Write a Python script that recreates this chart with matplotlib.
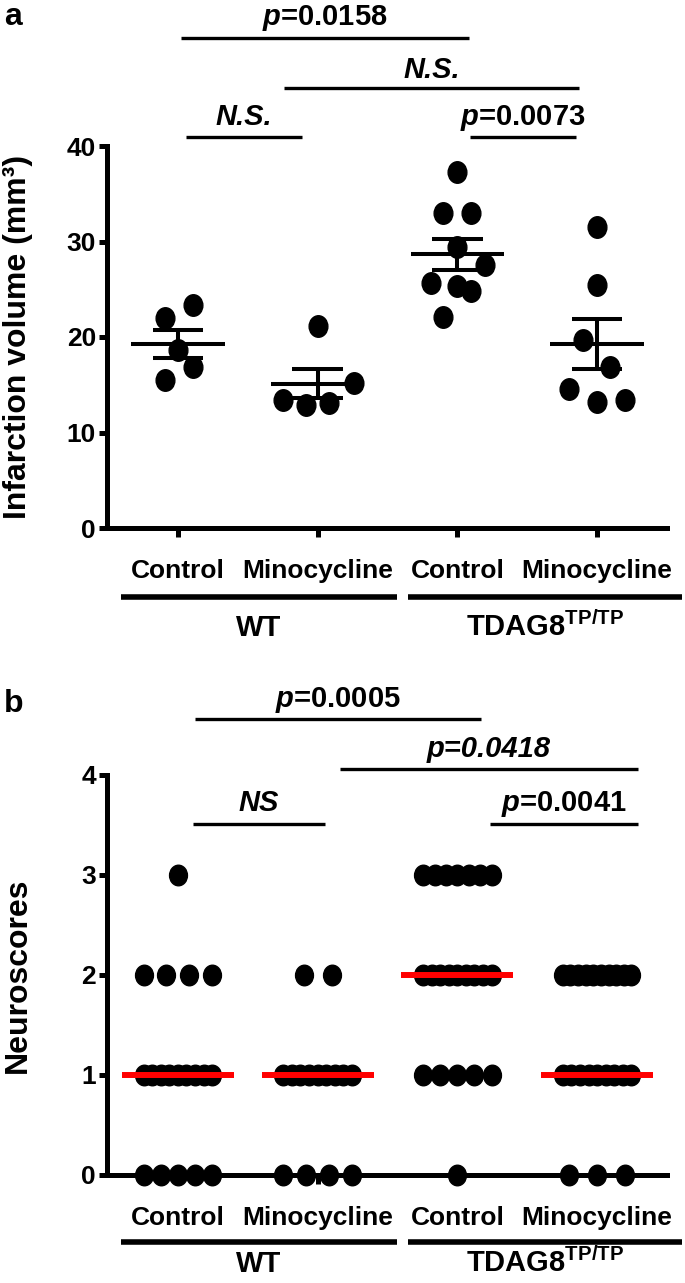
import numpy as np
import matplotlib.pyplot as plt
from matplotlib import font_manager
from matplotlib.path import Path
from matplotlib.transforms import Affine2D

# ---- panel a: infarction volume (mm3), one value per animal ----
groups = ["Control", "Minocycline", "Control", "Minocycline"]
genotypes = ["WT", "TDAG8$^{TP/TP}$"]
vol_wt_ctrl = [23.3, 22.0, 18.6, 16.9, 15.5]
vol_wt_mino = [21.1, 15.15, 13.4, 12.9, 13.05]
vol_tdag_ctrl = [37.3, 32.95, 32.95, 29.45, 27.5, 25.7, 25.3, 24.85, 22.1]
vol_tdag_mino = [31.55, 25.4, 19.7, 16.9, 14.6, 13.2, 13.45]

# ---- panel b: neuroscores, one value per animal ----
score_wt_ctrl = [0, 0, 0, 0, 0, 1, 1, 1, 1, 1, 1, 1, 1, 1, 2, 2, 2, 2, 3]
score_wt_mino = [0, 0, 0, 0, 1, 1, 1, 1, 1, 1, 1, 1, 1, 2, 2]
score_tdag_ctrl = [0, 1, 1, 1, 1, 1, 2, 2, 2, 2, 2, 2, 2, 2, 2, 3, 3, 3, 3, 3, 3, 3]
score_tdag_mino = [0, 0, 0, 1, 1, 1, 1, 1, 1, 1, 1, 1, 2, 2, 2, 2, 2, 2, 2, 2, 2, 2]

# significance labels
a_labels = ["$\\mathit{p}$=0.0158", "N.S.", "N.S.", "$\\mathit{p}$=0.0073"]
b_labels = ["$\\mathit{p}$=0.0005", "p=0.0418", "NS", "$\\mathit{p}$=0.0041"]

# ---- layout (not data): horizontal spread of the dots in panel a ----
a_spread = [
    [0.105, -0.09, 0.0, 0.105, -0.09],
    [0.0, 0.26, -0.25, -0.08, 0.085],
    [0.0, -0.1, 0.1, 0.0, 0.2, -0.19, 0.0, 0.1, -0.1],
    [0.0, 0.0, -0.1, 0.09, -0.2, 0.0, 0.2],
]

have = {f.name for f in font_manager.fontManager.ttflist}
BASE = "Liberation Sans" if "Liberation Sans" in have else "DejaVu Sans"
NARROW = "Liberation Sans Narrow" if "Liberation Sans Narrow" in have else BASE
AX_FS = 22.5 if NARROW != BASE else 19

plt.rcParams.update({
    "font.family": [BASE, "DejaVu Sans"],
    "font.weight": "bold",
    "mathtext.fontset": "custom",
    "mathtext.it": BASE + ":italic:bold",
    "mathtext.rm": BASE + ":bold",
    "mathtext.bf": BASE + ":bold",
    "mathtext.default": "regular",
})

W, H = 685, 1283
fig = plt.figure(figsize=(W / 100, H / 100), dpi=100)


def axes_px(left, right, top, bottom):
    return fig.add_axes([left / W, 1 - bottom / H, (right - left) / W, (bottom - top) / H])


ax_a = axes_px(107, 667, 146, 528)
ax_b = axes_px(107, 667, 775, 1175)

pos = np.arange(1, 5)
dot = Path.unit_circle().transformed(Affine2D().scale(0.87, 1.0))
LW = 3.6


def below(ax, px):
    return -px / (ax.get_position().height * H)


def style(ax, ymax, yticks):
    for s in ["top", "right"]:
        ax.spines[s].set_visible(False)
    for s in ["left", "bottom"]:
        ax.spines[s].set_linewidth(LW)
    ax.set_xlim(0.493, 4.5)
    ax.set_ylim(0, ymax)
    ax.set_yticks(yticks)
    ax.set_xticks(pos)
    ax.tick_params(axis="y", length=6, width=LW, pad=2, labelsize=AX_FS)
    ax.tick_params(axis="x", length=6.5, width=LW, labelbottom=False)
    for t in ax.get_yticklabels():
        t.set_fontfamily(NARROW)
        t.set_fontweight("bold")


def x_labels(ax, lab_px, line_px, geno_px):
    tr = ax.get_xaxis_transform()
    for x, g in zip(pos, groups):
        ax.text(x, below(ax, lab_px), g, transform=tr, ha="center", va="baseline",
                fontsize=AX_FS, family=NARROW, fontweight="bold", clip_on=False)
    spans = [(pos[0] - 0.41, pos[1] + 0.57), (pos[2] - 0.35, pos[3] + 0.61)]
    for (l, r), g in zip(spans, genotypes):
        ax.plot([l, r], [below(ax, line_px)] * 2, transform=tr, color="black",
                lw=4, solid_capstyle="butt", clip_on=False)
        ax.text((l + r) / 2, below(ax, geno_px), g, transform=tr, ha="center",
                va="baseline", fontsize=21, fontweight="bold", clip_on=False)


def brackets(ax, specs, labels):
    for (i, j, dl, dr, y, ty), lab in zip(specs, labels):
        l, r = pos[i] + dl, pos[j] + dr
        ax.plot([l, r], [y, y], color="black", lw=2.4, solid_capstyle="butt", clip_on=False)
        ital = "italic" if "$" not in lab else "normal"
        ax.text((l + r) / 2, ty, lab, ha="center", va="baseline", fontsize=21,
                fontweight="bold", style=ital, clip_on=False)


# ---------------- panel a ----------------
style(ax_a, 40, [0, 10, 20, 30, 40])
for x, v, s in zip(pos, [vol_wt_ctrl, vol_wt_mino, vol_tdag_ctrl, vol_tdag_mino], a_spread):
    v = np.asarray(v)
    ax_a.plot(x + np.asarray(s), v, ls="none", marker=dot, ms=15.5, color="black",
              zorder=3, clip_on=False)
    m = v.mean()
    se = v.std(ddof=1) / np.sqrt(len(v))
    ax_a.hlines(m, x - 0.335, x + 0.335, color="black", lw=2.9, zorder=4)
    ax_a.vlines(x, m - se, m + se, color="black", lw=2.9, zorder=4)
    ax_a.hlines([m - se, m + se], x - 0.18, x + 0.18, color="black", lw=2.9, zorder=4)

brackets(ax_a, [
    (0, 2, 0.02, 0.08, 51.3, 52.7),
    (1, 3, -0.24, -0.13, 46.1, 47.1),
    (0, 1, 0.06, -0.11, 40.9, 42.2),
    (2, 3, 0.09, -0.15, 40.9, 42.2),
], a_labels)
x_labels(ax_a, 50, 69, 108)

# ---------------- panel b ----------------
style(ax_b, 4, [0, 1, 2, 3, 4])
for x, sc in zip(pos, [score_wt_ctrl, score_wt_mino, score_tdag_ctrl, score_tdag_mino]):
    sc = np.asarray(sc)
    for lvl in np.unique(sc):
        n = int((sc == lvl).sum())
        w = min(0.2 * (n - 1), 0.49)
        xs = x + np.linspace(-w / 2, w / 2, n)
        ax_b.plot(xs, np.full(n, lvl), ls="none", marker=dot, ms=14.8, color="black",
                  zorder=3, clip_on=False)
    ax_b.hlines(np.median(sc), x - 0.4, x + 0.4, color="#ff0000", lw=4.3, zorder=5)

brackets(ax_b, [
    (0, 2, 0.12, 0.17, 4.56, 4.68),
    (1, 3, 0.16, 0.29, 4.06, 4.18),
    (0, 1, 0.11, 0.05, 3.51, 3.64),
    (2, 3, 0.23, 0.29, 3.51, 3.64),
], b_labels)
x_labels(ax_b, 50, 67, 97)

# axis titles and panel letters
fig.text(18 / W, 1 - 337 / H, "Infarction volume (mm\u00b3)", rotation=90, ha="center",
         va="center", fontsize=23, fontweight="bold")
fig.text(18 / W, 1 - 975 / H, "Neuroscores", rotation=90, ha="center", va="center",
         fontsize=23, fontweight="bold")
fig.text(4 / W, 1 - 25 / H, "a", fontsize=23, fontweight="bold")
fig.text(4 / W, 1 - 712 / H, "b", fontsize=23, fontweight="bold")

fig.savefig("out.png", dpi=100)
